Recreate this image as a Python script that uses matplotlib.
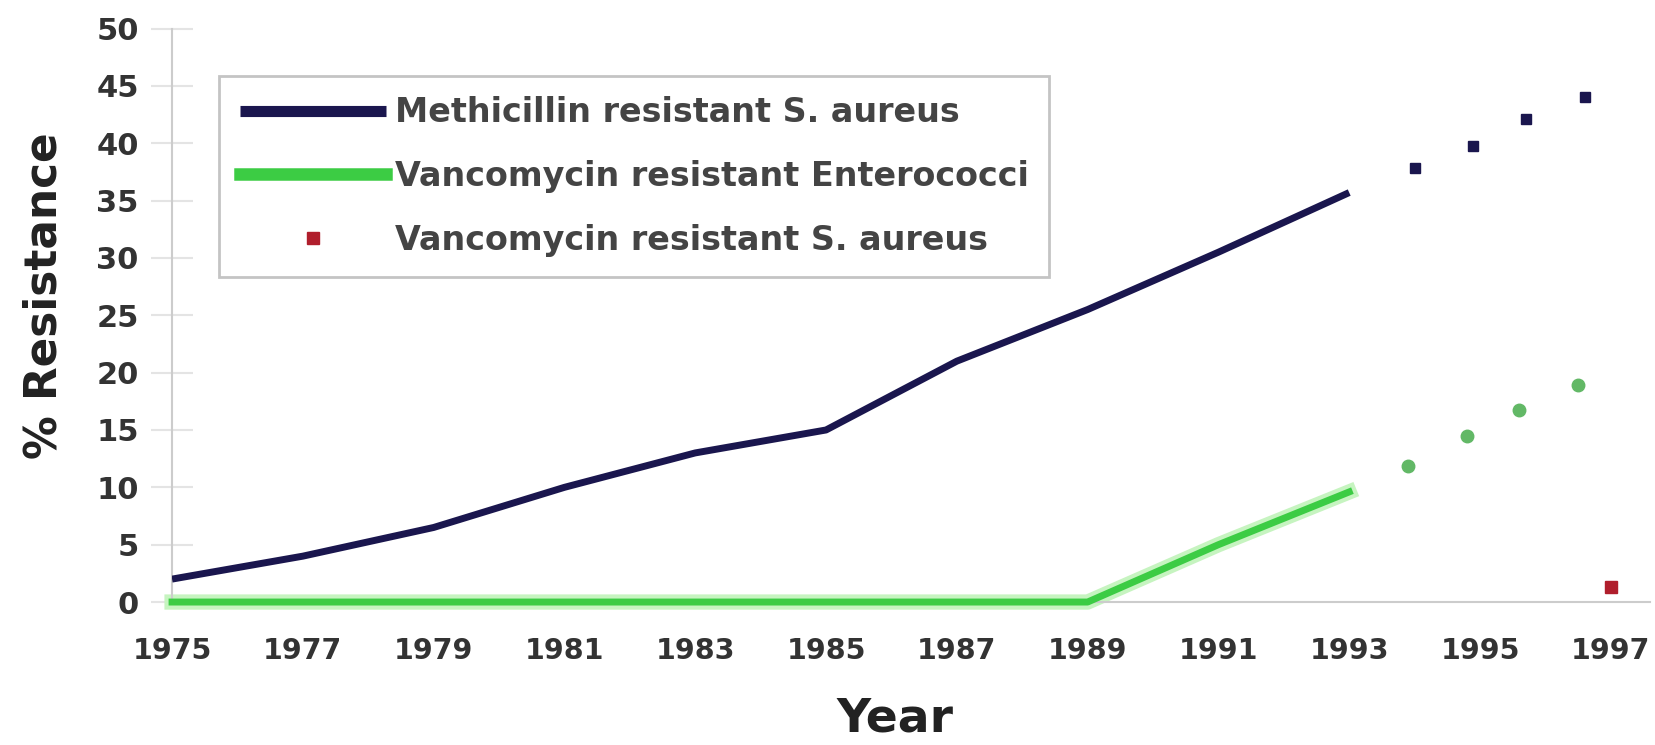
import matplotlib
matplotlib.use("Agg")
import matplotlib.pyplot as plt

# data
years = [1975, 1977, 1979, 1981, 1983, 1985, 1987, 1989, 1991, 1993]
mrsa = [2, 4, 6.5, 10, 13, 15, 21, 25.5, 30.5, 35.7]
vre = [0, 0, 0, 0, 0, 0, 0, 0, 5, 9.6]

mrsa_dot_years = [1994.0, 1994.9, 1995.7, 1996.6]
mrsa_dots = [37.8, 39.8, 42.1, 44.0]
vre_dot_years = [1993.9, 1994.8, 1995.6, 1996.5]
vre_dots = [11.9, 14.5, 16.7, 18.9]
vrsa_years = [1997]
vrsa = [1.3]

xticks = list(range(1975, 1998, 2))
yticks = list(range(0, 51, 5))

blue = '#1a164e'
green = '#3ccc44'
red = '#b01e2c'

fig = plt.figure(figsize=(16.56, 7.45), dpi=100)
ax = fig.add_axes([0.1039, 0.1919, 0.8925, 0.7698])

ax.plot(years, mrsa, color=blue, lw=5, solid_capstyle='butt', zorder=4,
        label='Methicillin resistant S. aureus')
# soft halo under the green line, then the line itself
ax.plot(years, vre, color='#c6f4c0', lw=11, zorder=2, clip_on=False)
ax.plot(years, vre, color=green, lw=5, zorder=3, clip_on=False,
        label='Vancomycin resistant Enterococci')
ax.plot(mrsa_dot_years, mrsa_dots, 's', color=blue, ms=7, zorder=4)
ax.plot(vre_dot_years, vre_dots, 'o', color='#62b866', ms=9, zorder=4)
ax.plot(vrsa_years, vrsa, 's', color=red, ms=9, zorder=5,
        label='Vancomycin resistant S. aureus', clip_on=False)

ax.set_xlim(1975, 1997.6)
ax.set_ylim(0, 50)
ax.set_xticks(xticks)
ax.set_yticks(yticks)

for s in ['top', 'right']:
    ax.spines[s].set_visible(False)
for s in ['left', 'bottom']:
    ax.spines[s].set_color('#cccccc')
    ax.spines[s].set_linewidth(1.5)

ax.tick_params(axis='x', length=0, pad=25, labelsize=20.5, labelcolor='#333333')
ax.tick_params(axis='y', direction='inout', length=30, width=1.5, color='#e4e4e4',
               pad=9, labelsize=22, labelcolor='#333333')
for lab in ax.get_xticklabels() + ax.get_yticklabels():
    lab.set_fontweight('bold')

ax.set_ylabel('% Resistance', fontsize=31.5, fontweight='bold', color='#222222')
ax.yaxis.set_label_coords(-0.0724, 0.534)
ax.set_xlabel('Year', fontsize=34, fontweight='bold', color='#222222')
ax.xaxis.set_label_coords(0.489, -0.165)
ax.xaxis.label.set_verticalalignment('top')

leg = ax.legend(loc='upper left', bbox_to_anchor=(0.0318, 0.918), borderaxespad=0,
                prop={'size': 24, 'weight': 'bold'}, handlelength=4.4,
                handletextpad=0.25, labelspacing=0.92, borderpad=0.62,
                fancybox=False, framealpha=1, edgecolor='#c4c4c4')
leg.get_frame().set_linewidth(2)
for t in leg.get_texts():
    t.set_color('#444444')
leg.get_lines()[0].set_linewidth(8)
leg.get_lines()[1].set_linewidth(9)

fig.savefig('out.png', dpi=100)
